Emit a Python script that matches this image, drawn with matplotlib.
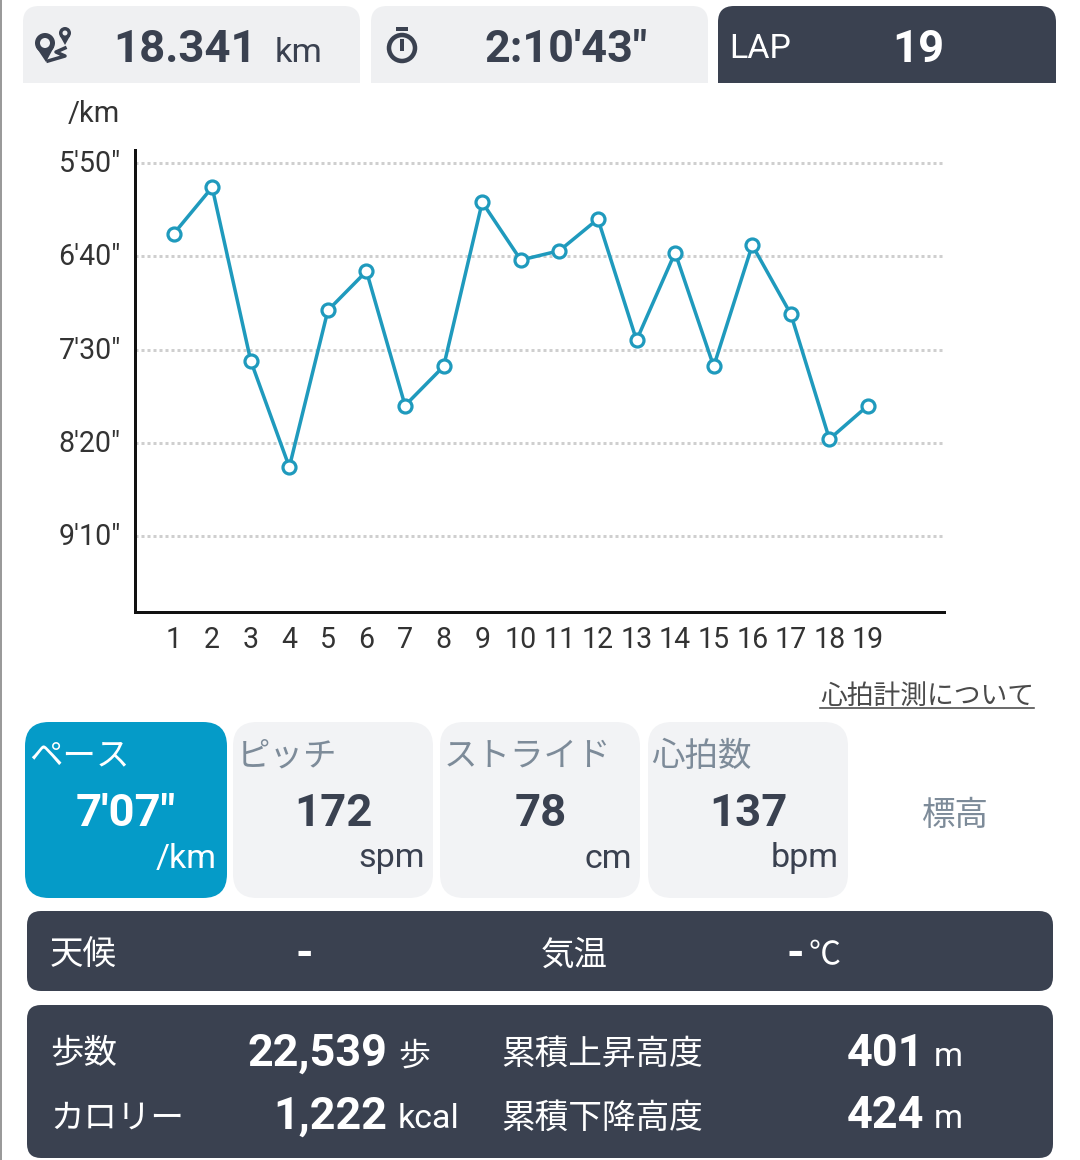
import matplotlib
matplotlib.use('Agg')
import matplotlib.pyplot as plt
from matplotlib.patches import FancyBboxPatch, Rectangle, Circle, Polygon
from matplotlib.transforms import ScaledTranslation

plt.rcParams['font.family'] = ['Roboto', 'Noto Sans CJK JP', 'DejaVu Sans']

# pace per lap in seconds per km
laps = list(range(1, 20))
pace = [388, 363, 456, 513, 429, 408, 480, 459, 371, 402, 397, 380, 445, 398, 459, 394, 431, 498, 480]
pace_ticks = [350, 400, 450, 500, 550]
pace_labels = ['5\'50"', '6\'40"', '7\'30"', '8\'20"', '9\'10"']

DARK = '#3a4150'
LIGHT = '#eff0f2'
TAB = '#f2f3f5'
BLUE = '#059bc8'
LINE = '#1f9abd'
GREY = '#7d8b99'
TXT = '#333333'


def pt(px):
    return px * 0.72


def round_box(ax, x0, y0, x1, y1, color, r=16, square_bottom=False):
    ax.add_patch(FancyBboxPatch((x0 + r, y0 + r), x1 - x0 - 2 * r, y1 - y0 - 2 * r,
                                boxstyle='round,pad=%d,rounding_size=%d' % (r, r),
                                fc=color, ec='none'))
    if square_bottom:
        ax.add_patch(Rectangle((x0, y0 + r), x1 - x0, y1 - y0 - r, fc=color, ec='none'))


fig = plt.figure(figsize=(10.8, 11.6), dpi=100, facecolor='white')

# background layer in pixel coordinates
bg = fig.add_axes([0, 0, 1, 1])
bg.set_xlim(0, 1080)
bg.set_ylim(1160, 0)
bg.axis('off')


def txt(x, y, s, size, color=DARK, ha='left', weight='normal'):
    bg.text(x, y, s, fontsize=pt(size), color=color, ha=ha, va='center_baseline', fontweight=weight)


bg.add_patch(Rectangle((0, 0), 1.5, 1160, fc='#9a9a9a', ec='none'))

# top panels
round_box(bg, 23, 6, 360, 83, LIGHT, square_bottom=True)
round_box(bg, 371, 6, 708, 83, LIGHT, square_bottom=True)
round_box(bg, 718, 6, 1056, 83, DARK, square_bottom=True)

# distance icon
bg.add_patch(Circle((45, 43), 10, fc=DARK, ec='none'))
bg.add_patch(Polygon([[36, 47], [54, 47], [46, 62]], fc=DARK, ec='none'))
bg.add_patch(Circle((45, 43), 5, fc=LIGHT, ec='none'))
bg.add_patch(Circle((65, 33), 6, fc=DARK, ec='none'))
bg.add_patch(Polygon([[60, 36], [70, 36], [65, 45]], fc=DARK, ec='none'))
bg.add_patch(Circle((65, 33), 2.5, fc=LIGHT, ec='none'))
bg.plot([65, 56, 65, 48], [48, 52, 56, 61], color=DARK, lw=pt(3.5))

# stopwatch icon
bg.add_patch(Circle((402, 48), 13, fc='none', ec=DARK, lw=pt(4.5)))
bg.add_patch(Rectangle((396, 27), 12, 4, fc=DARK, ec='none'))
bg.plot([402, 402], [41, 49], color=DARK, lw=pt(4))

txt(113, 45, '18.341', 45.5, weight='bold')
txt(275, 50, 'km', 34.5)
txt(484, 45, '2:10\'43"', 45, weight='bold')
txt(729, 45, 'LAP', 34, color='white')
txt(918, 45, '19', 45.5, color='white', ha='center', weight='bold')

txt(68, 111, '/km', 29, color=TXT)

# metric tabs
round_box(bg, 25, 722, 227, 898, BLUE, r=24)
round_box(bg, 233, 722, 433, 898, TAB, r=24)
round_box(bg, 440, 722, 640, 898, TAB, r=24)
round_box(bg, 648, 722, 848, 898, TAB, r=24)

txt(820, 693, '心拍計測について', 26.8, color='#4a4a4a')
bg.plot([820, 1034], [708, 708], color='#4a4a4a', lw=pt(1.6))

txt(29, 753, 'ペース', 33.5, color='white')
txt(126, 809, '7\'07"', 45.5, color='white', ha='center', weight='bold')
txt(217, 855, '/km', 34, color='white', ha='right')

txt(237, 753, 'ピッチ', 33.5, color=GREY)
txt(333, 810, '172', 45.5, ha='center', weight='bold')
txt(425, 855, 'spm', 34, ha='right')

txt(444, 753, 'ストライド', 33.5, color=GREY)
txt(541, 810, '78', 45.5, ha='center', weight='bold')
txt(632, 855, 'cm', 34, ha='right')

txt(651, 753, '心拍数', 33.5, color=GREY)
txt(748, 810, '137', 45.5, ha='center', weight='bold')
txt(839, 855, 'bpm', 34, ha='right')

txt(955, 812, '標高', 33.5, color=GREY, ha='center')

# weather bar
round_box(bg, 27, 911, 1053, 991, DARK, r=14)
txt(50, 952, '天候', 33.5, color='white')
txt(304, 951, '-', 45, color='white', ha='center', weight='bold')
txt(541, 952, '気温', 33.5, color='white')
txt(795, 951, '-', 45, color='white', ha='center', weight='bold')
txt(809, 953, '℃', 32, color='white')

# stats bar
round_box(bg, 27, 1005, 1053, 1158, DARK, r=14)
txt(50, 1051, '歩数', 33.5, color='white')
txt(387, 1049, '22,539', 45, color='white', ha='right', weight='bold')
txt(398, 1054, '歩', 32, color='white')
txt(501, 1051, '累積上昇高度', 33.7, color='white')
txt(924, 1049, '401', 45, color='white', ha='right', weight='bold')
txt(934, 1053, 'm', 33, color='white')

txt(50, 1115, 'カロリー', 33.5, color='white')
txt(387, 1112, '1,222', 45, color='white', ha='right', weight='bold')
txt(398, 1116, 'kcal', 34, color='white')
txt(501, 1115, '累積下降高度', 33.7, color='white')
txt(924, 1112, '424', 45, color='white', ha='right', weight='bold')
txt(934, 1116, 'm', 33, color='white')

# pace chart
ax = fig.add_axes([135 / 1080, 1 - 612 / 1160, (944 - 135) / 1080, (612 - 150) / 1160])
ax.patch.set_alpha(0)
ax.set_xlim(0, 20.97)
ax.set_ylim(590.7, 343)
ax.yaxis.grid(True, color='#cfcfcf', linestyle=(0, (1, 1)), linewidth=pt(3))
ax.set_axisbelow(True)
ax.plot(laps, pace, color=LINE, lw=pt(3.5), marker='o', ms=pt(13), mfc='white', mec=LINE, mew=pt(3.2), clip_on=False)
ax.set_xticks(laps)
ax.set_xticklabels(laps)
ax.set_yticks(pace_ticks)
ax.set_yticklabels(pace_labels)
ax.tick_params(length=0, labelsize=pt(28.5), labelcolor=TXT)
ax.tick_params(axis='x', pad=pt(14))
ax.tick_params(axis='y', pad=pt(14))
# y labels sit a little above their grid lines
shift = ScaledTranslation(0, 2 / 100, fig.dpi_scale_trans)
for lab in ax.get_yticklabels():
    lab.set_transform(lab.get_transform() + shift)
for s in ['top', 'right']:
    ax.spines[s].set_visible(False)
for s in ['left', 'bottom']:
    ax.spines[s].set_linewidth(pt(3))
    ax.spines[s].set_color('#111111')

fig.savefig('out.png', dpi=100)
